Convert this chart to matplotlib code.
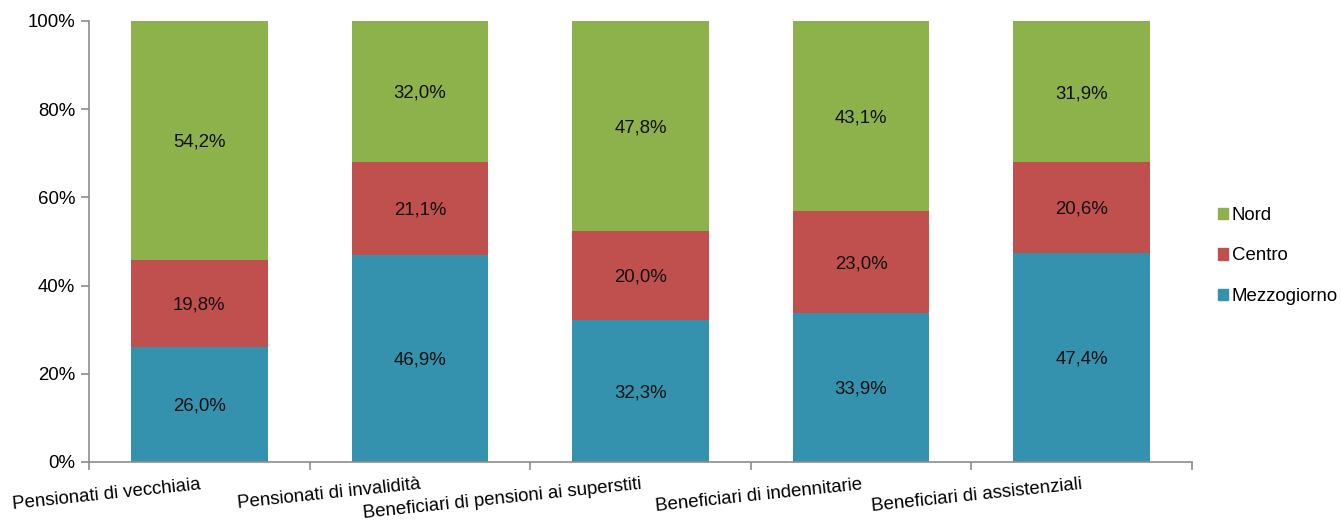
import matplotlib
matplotlib.use("Agg")
import matplotlib.pyplot as plt
import numpy as np
from matplotlib.patches import Patch

categories = ["Pensionati di vecchiaia", "Pensionati di invalidità",
              "Beneficiari di pensioni ai superstiti", "Beneficiari di indennitarie",
              "Beneficiari di assistenziali"]
mezzogiorno = [26.0, 46.9, 32.3, 33.9, 47.4]
centro = [19.8, 21.1, 20.0, 23.0, 20.6]
nord = [54.2, 32.0, 47.8, 43.1, 31.9]
series_names = ["Mezzogiorno", "Centro", "Nord"]
y_ticks = [0, 20, 40, 60, 80, 100]

colors = {"Mezzogiorno": "#3592AE", "Centro": "#C0504D", "Nord": "#8DB24C"}

plt.rcParams["font.family"] = ["Liberation Sans", "DejaVu Sans"]
FS = 13.4

fig = plt.figure(figsize=(13.41, 5.24), dpi=100)
ax = fig.add_axes([89/1341, 1-462/524, (1192-89)/1341, (462-21)/524])

x = np.arange(len(categories))
data = [mezzogiorno, centro, nord]
bottom = np.zeros(len(categories))
for name, vals in zip(series_names, data):
    vals = np.array(vals)
    ax.bar(x, vals, 0.62, bottom=bottom, color=colors[name], label=name, zorder=2)
    for xi, b, v in zip(x, bottom, vals):
        ax.text(xi, b + v/2 - 0.4, f"{v:.1f}%".replace(".", ","), ha="center", va="center",
                fontsize=FS, color="#111111", zorder=3)
    bottom += vals

ax.set_xlim(-0.5, len(categories) - 0.5)
ax.set_ylim(0, 100)
ax.set_yticks(y_ticks)
ax.set_yticklabels([f"{t}%" for t in y_ticks], fontsize=FS)
ax.set_xticks(np.arange(len(categories) + 1) - 0.5)
ax.set_xticklabels([])
for xi, lab in zip(x, categories):
    ax.text(xi, -0.032, lab, transform=ax.get_xaxis_transform(), rotation=6,
            rotation_mode="anchor", ha="right", va="top", fontsize=FS)

for s in ["top", "right"]:
    ax.spines[s].set_visible(False)
for s in ["left", "bottom"]:
    ax.spines[s].set_color("#8C8C8C")
    ax.spines[s].set_linewidth(1.2)
ax.tick_params(axis="both", color="#8C8C8C", width=1.2, length=6, direction="out")
ax.tick_params(axis="y", pad=4)

handles = [Patch(color=colors[n]) for n in ["Nord", "Centro", "Mezzogiorno"]]
ax.legend(handles, ["Nord", "Centro", "Mezzogiorno"], loc="center left",
          bbox_to_anchor=(1218/1341, 1-256/524), bbox_transform=fig.transFigure,
          frameon=False, fontsize=FS, handlelength=0.55, handleheight=0.55,
          handletextpad=0.2, labelspacing=1.25, borderpad=0, borderaxespad=0)

fig.savefig("out.png", dpi=100)
